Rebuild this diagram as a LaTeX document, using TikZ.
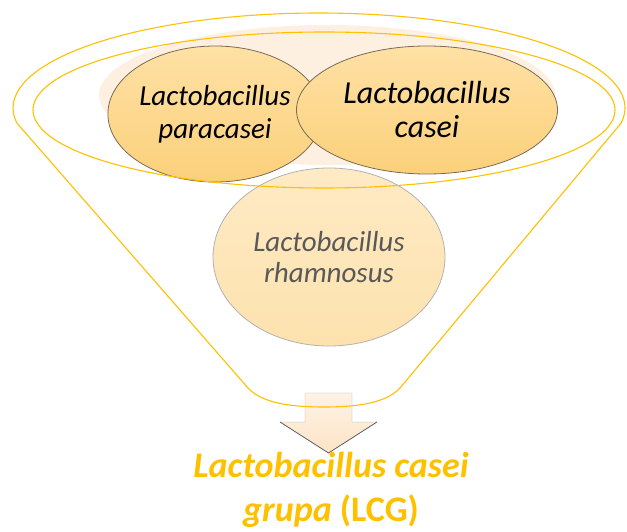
\documentclass[tikz,border=0pt]{standalone}
\usepackage{fontspec}
\setmainfont{Carlito}
\usepackage{tikz}
\usetikzlibrary{shapes.geometric}
\definecolor{lcggold}{HTML}{FFC000}
\definecolor{blobpeach}{HTML}{FDF0E1}
\definecolor{ovaltop}{HTML}{FFE1A5}
\definecolor{ovalbottom}{HTML}{FBD07A}
\definecolor{ovalline}{HTML}{7A6A55}
\definecolor{paletop}{HTML}{FEEAC4}
\definecolor{palebottom}{HTML}{FDE2AE}
\definecolor{greytext}{HTML}{595959}
\definecolor{arrowtop}{HTML}{FEF3E6}
\definecolor{arrowbottom}{HTML}{FCE4C6}
\definecolor{arrowedge}{HTML}{5A5A5A}

\tikzset{
    oval/.style={ellipse, inner sep=0pt, draw=ovalline, line width=0.8pt,
        top color=ovaltop, bottom color=ovalbottom, align=center,
        font=\fontsize{29}{33}\selectfont\itshape},
    paleoval/.style={oval, draw=gray!60, top color=paletop, bottom color=palebottom,
        text=greytext},
    funnelline/.style={lcggold, line width=1.1pt}
}

\begin{document}
\begin{tikzpicture}[x=1pt, y=1pt]
    \useasboundingbox (0,0) rectangle (627,531);
    % soft glow behind the two top ovals
    \fill[blobpeach] (327,436) ellipse [x radius=228, y radius=70];
    \node[oval, minimum width=214, minimum height=136] (para) at (215,417) {Lactobacillus\\paracasei};
    \node[oval, minimum width=261, minimum height=128, font=\fontsize{32}{34}\selectfont\itshape] (casei) at (427,421) {Lactobacillus\\casei};
    \node[paleoval, minimum width=232, minimum height=178, font=\fontsize{29}{31}\selectfont\itshape] (rham) at (329,274) {Lactobacillus\\rhamnosus};
    % arrow out of the funnel
    \draw[draw=gray!60, top color=arrowtop, bottom color=arrowbottom]
        (305,138) -- (352,138) -- (352,109) -- (377,109) -- (328.5,78) -- (280,109) -- (305,109) -- cycle;
    \draw[arrowedge, line width=0.7pt] (377,109) -- (328.5,78) -- (280,109);
    % funnel
    \draw[funnelline] (319,423) ++(-9.1:306 and 95) arc[start angle=-9.1, end angle=189.1, x radius=306, y radius=95]
        -- (248,143) .. controls (262,128) and (290,124) .. (324,124)
        .. controls (358,124) and (386,128) .. (400,143) -- cycle;
    \draw[funnelline] (324,421) ellipse [x radius=291, y radius=78];
    \node[text=lcggold, font=\fontsize{36}{44}\selectfont\bfseries, align=center] (lcg) at (331,41)
        {\textit{Lactobacillus casei}\\\textit{grupa} (LCG)};
\end{tikzpicture}
\end{document}
